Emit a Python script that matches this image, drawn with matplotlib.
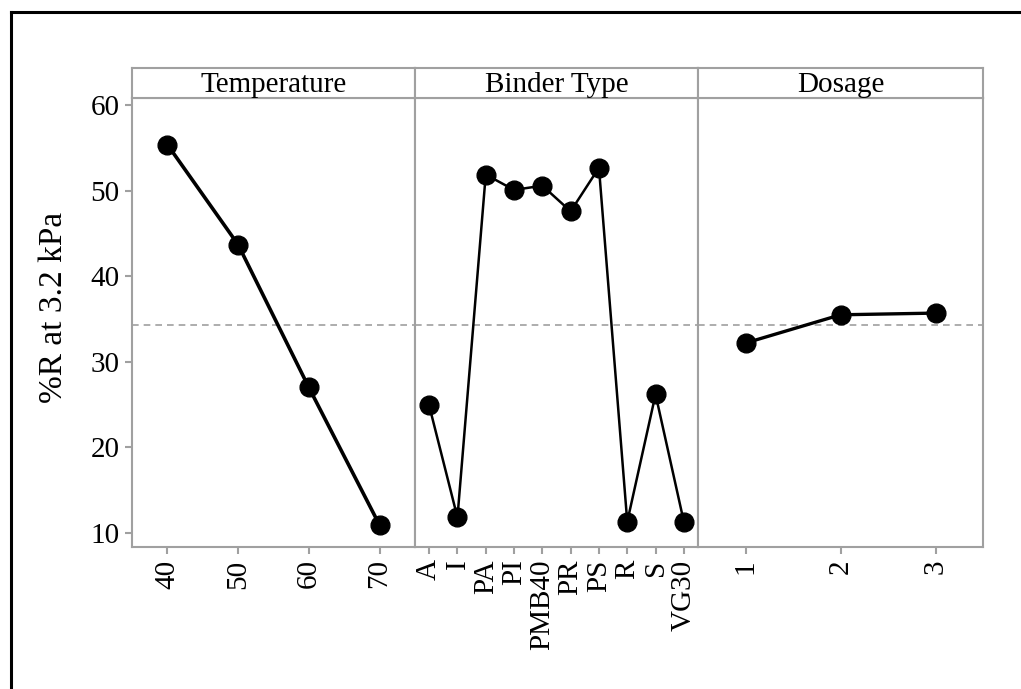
import numpy as np
import matplotlib.pyplot as plt
from matplotlib.lines import Line2D

plt.rcParams['font.family'] = ['Liberation Serif', 'DejaVu Serif']

# main effect means for %R at 3.2 kPa
temperature = ['40', '50', '60', '70']
temp_mean = [55.4, 43.7, 27.0, 10.9]

binder = ['A', 'I', 'PA', 'PI', 'PMB40', 'PR', 'PS', 'R', 'S', 'VG30']
binder_mean = [24.9, 11.8, 51.9, 50.1, 50.6, 47.6, 52.7, 11.3, 26.2, 11.3]

dosage = ['1', '2', '3']
dosage_mean = [32.2, 35.5, 35.7]

overall_mean = 34.3

panels = [('Temperature', temperature, temp_mean, 2.6),
          ('Binder Type', binder, binder_mean, 1.8),
          ('Dosage', dosage, dosage_mean, 2.4)]

W, H = 1021, 689
fig = plt.figure(figsize=(W / 100, H / 100), dpi=100)

grey = '#a0a0a0'
edges = [132, 415, 698, 983]
top, bottom, strip_top = 98, 547, 68

first = None
for i, (name, cats, vals, lw) in enumerate(panels):
    x0, x1 = edges[i], edges[i + 1]
    ax = fig.add_axes([x0 / W, 1 - bottom / H, (x1 - x0) / W, (bottom - top) / H],
                      sharey=first)
    if first is None:
        first = ax
    pos = np.arange(len(cats))
    ax.axhline(overall_mean, color=grey, ls=(0, (4, 3)), lw=1.2, zorder=1)
    ax.plot(pos, vals, color='black', lw=lw, marker='o', markersize=13.5, zorder=3)
    ax.set_xlim(-0.5, len(cats) - 0.5)
    ax.set_xticks(pos)
    ax.set_xticklabels(cats, rotation=90, fontsize=21)
    for s in ax.spines.values():
        s.set_color(grey)
        s.set_linewidth(1.5)
    ax.tick_params(axis='both', colors=grey, labelcolor='black', length=5, width=1.5)
    ax.tick_params(axis='x', pad=4)
    if i == 0:
        ax.set_ylim(8.35, 60.85)
        ax.set_yticks([10, 20, 30, 40, 50, 60])
        ax.tick_params(axis='y', labelsize=21, pad=4)
        ax.set_ylabel('%R at 3.2 kPa', fontsize=24)
        # centre the label on the panel plus its header strip
        ax.yaxis.set_label_coords(-0.222, 0.533)
    else:
        ax.tick_params(axis='y', left=False, labelleft=False)

    # header strip
    sx = fig.add_axes([x0 / W, 1 - top / H, (x1 - x0) / W, (top - strip_top) / H])
    sx.set_xticks([])
    sx.set_yticks([])
    for s in sx.spines.values():
        s.set_color(grey)
        s.set_linewidth(1.5)
    sx.text(0.5, 0.45, name, ha='center', va='center', fontsize=21,
            transform=sx.transAxes)

# outer frame
fx, fy = 11 / W, 1 - 12 / H
fig.add_artist(Line2D([fx, fx], [0, fy], color='black', lw=2.2))
fig.add_artist(Line2D([fx, 1], [fy, fy], color='black', lw=2.2))

fig.savefig('out.png', dpi=100)
